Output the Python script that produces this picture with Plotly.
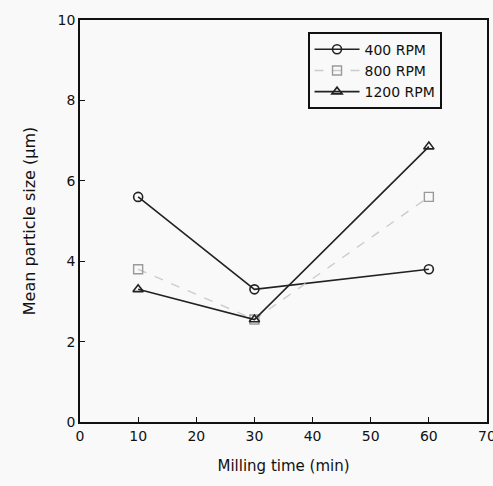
import plotly.graph_objects as go

time_min = [10, 30, 60]
rpm400 = [5.6, 3.3, 3.8]
rpm800 = [3.8, 2.55, 5.6]
rpm1200 = [3.3, 2.55, 6.85]
series_names = ["400 RPM", "800 RPM", "1200 RPM"]
x_ticks = [0, 10, 20, 30, 40, 50, 60, 70]
y_ticks = [0, 2, 4, 6, 8, 10]

FONT = "DejaVu Sans, Arial, sans-serif"

fig = go.Figure()
fig.add_trace(go.Scatter(
    x=time_min, y=rpm400, name=series_names[0], mode="lines+markers",
    line=dict(color="#222222", width=1.6),
    marker=dict(symbol="circle-open", size=9, color="#222222", line=dict(width=1.6)),
))
fig.add_trace(go.Scatter(
    x=time_min, y=rpm800, name=series_names[1], mode="lines+markers",
    line=dict(color="#cccccc", width=1.4, dash="dash"),
    marker=dict(symbol="square-open", size=9, color="#9a9a9a", line=dict(width=1.4)),
))
fig.add_trace(go.Scatter(
    x=time_min, y=rpm1200, name=series_names[2], mode="lines+markers",
    line=dict(color="#222222", width=1.6),
    marker=dict(symbol="triangle-up-open", size=9, color="#222222", line=dict(width=1.6)),
))

axis_common = dict(
    showline=True, linecolor="#111111", linewidth=1.6, mirror=True,
    ticks="inside", ticklen=5, tickwidth=1.3, tickcolor="#111111",
    showgrid=False, zeroline=False, ticklabeloverflow="allow", automargin=False,
    tickfont=dict(family=FONT, size=14, color="#111111"),
)

fig.update_layout(
    width=493, height=486,
    margin=dict(l=80, r=6, t=20, b=64),
    paper_bgcolor="#f9f9f9", plot_bgcolor="#f9f9f9",
    font=dict(family=FONT, color="#111111"),
    xaxis=dict(range=[0, 70], tickvals=x_ticks,
               title=dict(text="Milling time (min)", font=dict(family=FONT, size=15), standoff=18),
               **axis_common),
    yaxis=dict(range=[0, 10], tickvals=y_ticks,
               title=dict(text="Mean particle size (μm)", font=dict(family=FONT, size=16), standoff=18),
               **axis_common),
    legend=dict(x=0.56, y=0.97, xanchor="left", yanchor="top",
                bordercolor="#111111", borderwidth=1.6, bgcolor="#f9f9f9",
                font=dict(family=FONT, size=14), tracegroupgap=0, itemwidth=45),
    showlegend=True,
)

fig.write_html("out.html")
